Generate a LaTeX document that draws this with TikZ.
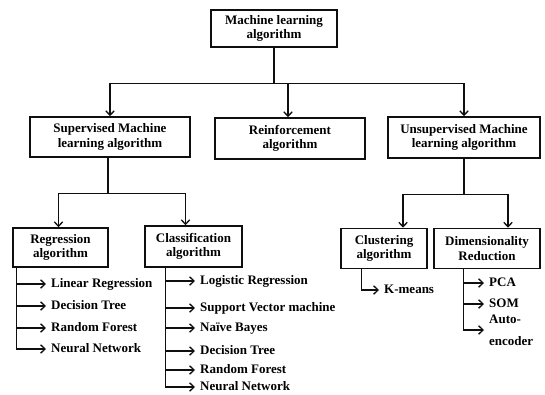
\documentclass[tikz,border=0pt]{standalone}
\usepackage{fontspec}
\setmainfont{Liberation Serif}
\usepackage{tikz}
\usetikzlibrary{arrows.meta,calc}
\definecolor{inkblack}{RGB}{15,15,15}

\begin{document}
\begin{tikzpicture}[x=1pt, y=-1pt,
    font=\fontsize{13}{14.5}\selectfont\bfseries,
    box/.style={draw=inkblack, line width=1.6pt, align=center, inner sep=0pt},
    leaf/.style={anchor=west, inner xsep=5pt, inner ysep=0pt,
      text height=9pt, text depth=3pt},
    link/.style={draw=inkblack, line width=1.3pt},
    arr/.style={link, -{Straight Barb[length=4.5pt,width=8.5pt]}}]
  \useasboundingbox (0,0) rectangle (545,394);
  % Root
  \node[box, minimum width=126pt, minimum height=37pt] (ml) at (274,28.5)
    {Machine learning\\algorithm};
  % Main families
  \node[box, minimum width=160pt, minimum height=40pt] (sup) at (110,137)
    {Supervised Machine\\learning algorithm};
  \node[box, minimum width=150pt, minimum height=41pt] (rein) at (290,138.5)
    {Reinforcement\\algorithm};
  \node[box, minimum width=152pt, minimum height=41pt] (unsup) at (464,137.5)
    {Unsupervised Machine\\learning algorithm};
  % Sub families
  \node[box, minimum width=95pt, minimum height=39pt] (reg) at (60.5,247.5)
    {Regression\\algorithm};
  \node[box, minimum width=97pt, minimum height=41pt] (cls) at (193.5,246.5)
    {Classification\\algorithm};
  \node[box, minimum width=86pt, minimum height=40pt] (clu) at (384,248.5)
    {Clustering\\algorithm};
  \node[box, minimum width=106pt, minimum height=40pt] (dim) at (487,248.5)
    {Dimensionality\\Reduction};

  % Root to families
  \coordinate (top) at ($(ml.south)+(0,36)$);
  \draw[link] (ml) -- (top);
  \draw[arr] (top) -| (sup);
  \draw[arr] (top) -| ($(rein.north)+(-2,0)$);
  \draw[arr] (top) -| (unsup);
  % Supervised split
  \coordinate (supj) at ($(sup.south)+(-2,36)$);
  \draw[link] (sup.south -| supj) -- (supj);
  \draw[arr] (supj) -| ($(reg.north)+(-2,0)$);
  \draw[arr] (supj) -| ($(cls.north)+(-8,0)$);
  % Unsupervised split
  \coordinate (unsupj) at ($(unsup.south)+(0,36)$);
  \draw[link] (unsup) -- (unsupj);
  \draw[arr] (unsupj) -| ($(clu.north)+(19,0)$);
  \draw[arr] (unsupj) -| ($(dim.north)+(21,0)$);

  % Regression methods
  \foreach \name/\y/\txt in {lr/284/Linear Regression, rdt/306/Decision Tree,
      rrf/328/Random Forest, rnn/349/Neural Network}{
    \node[leaf] (\name) at (46,\y) {\txt};
    \draw[arr] ($(reg.south west)+(4,0)$) |- (\name);
  }
  % Classification methods
  \foreach \name/\y/\txt in {lgr/281/Logistic Regression, svm/308/Support Vector machine,
      nb/328/Naïve Bayes, cdt/351/Decision Tree, crf/370/Random Forest,
      cnn/387/Neural Network}{
    \node[leaf] (\name) at (195,\y) {\txt};
    \draw[arr] ($(cls.south west)+(21,0)$) |- (\name);
  }
  % Clustering
  \node[leaf] (km) at (379,290) {K-means};
  \draw[arr] ($(clu.south west)+(21,0)$) |- (km);
  % Dimensionality reduction
  \foreach \name/\y/\txt in {pca/283/PCA, som/304/SOM}{
    \node[leaf] (\name) at (484,\y) {\txt};
    \draw[arr] ($(dim.south west)+(30,0)$) |- (\name);
  }
  \node[anchor=west, inner xsep=5pt, inner ysep=0pt, align=left,
    font=\fontsize{13}{22}\selectfont\bfseries] (ae) at (484,330) {Auto-\\encoder};
  \draw[arr] ($(dim.south west)+(30,0)$) |- (ae);
\end{tikzpicture}
\end{document}
